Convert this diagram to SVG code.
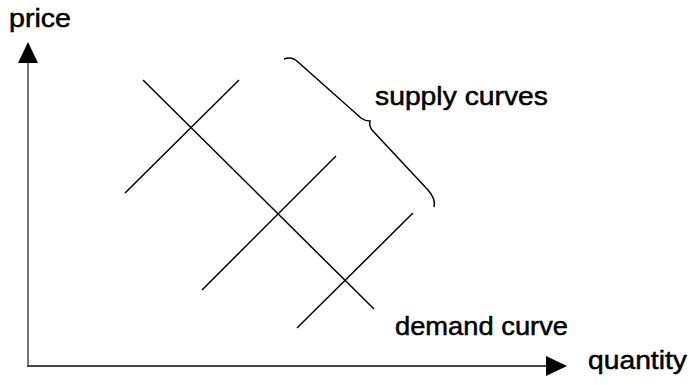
<svg xmlns="http://www.w3.org/2000/svg" width="692" height="385" viewBox="0 0 692 385">
<style>
.t{font-family:"Liberation Sans",Arial,sans-serif;font-size:26px;fill:#000;stroke:#000;stroke-width:0.5}
.c{stroke:#000;stroke-width:1.5;fill:none}
</style>
<rect width="692" height="385" fill="#fff"/>
<g id="axes">
<line x1="28" y1="60" x2="28" y2="366" stroke="#777" stroke-width="2"/>
<line x1="27" y1="366" x2="550" y2="366" stroke="#444" stroke-width="2"/>
<polygon points="28,42 18,63 38,63" fill="#000"/>
<polygon points="567,366 546,356 546,376" fill="#000"/>
</g>
<g id="demand"><line class="c" x1="143" y1="80" x2="374" y2="309"/></g>
<g id="supply1"><line class="c" x1="125" y1="193" x2="239" y2="80"/></g>
<g id="supply2"><line class="c" x1="202" y1="290" x2="336" y2="156"/></g>
<g id="supply3"><line class="c" x1="297" y1="328" x2="413" y2="213"/></g>
<g id="brace"><path class="c" d="M284,59 Q292,56 298,62 L361,118 Q365,121 370,121 Q369,126 372,130 L428,190 Q436,199 434,207"/></g>
<g id="labels">
<text class="t" x="9" y="27" textLength="62" lengthAdjust="spacingAndGlyphs">price</text>
<text class="t" x="375" y="105" textLength="173" lengthAdjust="spacingAndGlyphs">supply curves</text>
<text class="t" x="395" y="335" textLength="173" lengthAdjust="spacingAndGlyphs">demand curve</text>
<text class="t" x="588" y="369" textLength="99" lengthAdjust="spacingAndGlyphs">quantity</text>
</g>
</svg>
